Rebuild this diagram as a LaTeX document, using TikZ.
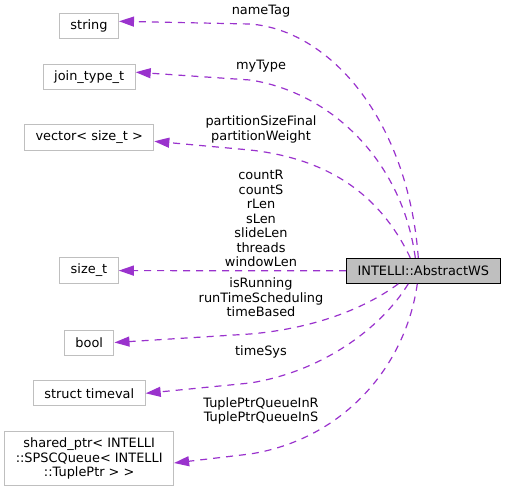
\documentclass[tikz,border=0pt]{standalone}
\usepackage{fontspec}
\setmainfont{DejaVu Sans}
\usepackage{tikz}
\usetikzlibrary{arrows.meta}
\usetikzlibrary{positioning}
\colorlet{usage}{rgb,255:red,154;green,50;blue,205}
\colorlet{boxline}{rgb,255:red,191;green,191;blue,191}
\colorlet{mainfill}{rgb,255:red,191;green,191;blue,191}

\begin{document}
\begin{tikzpicture}[
x=1pt,y=-1pt,
every node/.style={font=\fontsize{12.9}{14.5}\selectfont},
ClassBox/.style={draw=boxline,line width=1pt,fill=white,inner xsep=11pt,inner ysep=6.3pt,minimum height=25pt,align=center},
MainBox/.style={draw=black,line width=1pt,fill=mainfill,inner xsep=11pt,minimum height=25pt},
UsageEdge/.style={draw=usage,line width=1.2pt,dash pattern=on 7pt off 6pt,-{Triangle[length=15pt,width=10pt]}},
EdgeLabel/.style={inner sep=0pt,align=center}
]
\useasboundingbox (0,0) rectangle (505,492);

% the classes that are used
\node[ClassBox] (string) at (89,26.3) {string};
\node[ClassBox] (jointype) at (89.2,77.2) {join\_type\_t};
\node[ClassBox] (vecsize) at (89.2,137.3) {vector< size\_t >};
\node[ClassBox] (sizet) at (89,270.6) {size\_t};
\node[ClassBox] (bool) at (89.2,342.5) {bool};
\node[ClassBox] (timeval) at (89.3,393.3) {struct timeval};
\node[ClassBox] (queueptr) at (89.2,458.5) {shared\_ptr< INTELLI\\::SPSCQueue< INTELLI\\::TuplePtr > >};

% the class itself
\node[MainBox] (ws) at (423.3,270.8) {INTELLI::AbstractWS};

% usage relations
\draw[UsageEdge] ([xshift=-5pt]ws.north) .. controls (408,120) and (330,30) .. (250,24) -- ([yshift=5pt]string.east);
\draw[UsageEdge] ([xshift=-8pt]ws.north) .. controls (402,160) and (330,92) .. (250,80) -- ([yshift=5pt]jointype.east);
\draw[UsageEdge] ([xshift=-13pt]ws.north) .. controls (385,205) and (340,160) .. (250,150) -- ([yshift=-4pt]vecsize.east);
\draw[UsageEdge] (ws.west) -- (sizet.east);
\draw[UsageEdge] ([xshift=-25pt]ws.south) .. controls (370,305) and (320,328) .. (250,334) -- (bool.east);
\draw[UsageEdge] ([xshift=-15pt]ws.south) .. controls (380,330) and (320,372) .. (250,383) -- (timeval.east);
\draw[UsageEdge] ([xshift=-6pt]ws.south) .. controls (405,370) and (340,440) .. (250,454) -- ([yshift=-4.5pt]queueptr.east);

% member names
\node[EdgeLabel] (lblname) at (261,11) {nameTag};
\node[EdgeLabel] (lbltype) at (261,66) {myType};
\node[EdgeLabel] (lblpart) at (261,129.5) {partitionSizeFinal\\partitionWeight};
\node[EdgeLabel] (lblsize) at (261,218.5) {countR\\countS\\rLen\\sLen\\slideLen\\threads\\windowLen};
\node[EdgeLabel] (lblbool) at (261,297.5) {isRunning\\runTimeScheduling\\timeBased};
\node[EdgeLabel] (lbltime) at (261,352) {timeSys};
\node[EdgeLabel] (lblqueue) at (261,411) {TuplePtrQueueInR\\TuplePtrQueueInS};

\end{tikzpicture}
\end{document}
